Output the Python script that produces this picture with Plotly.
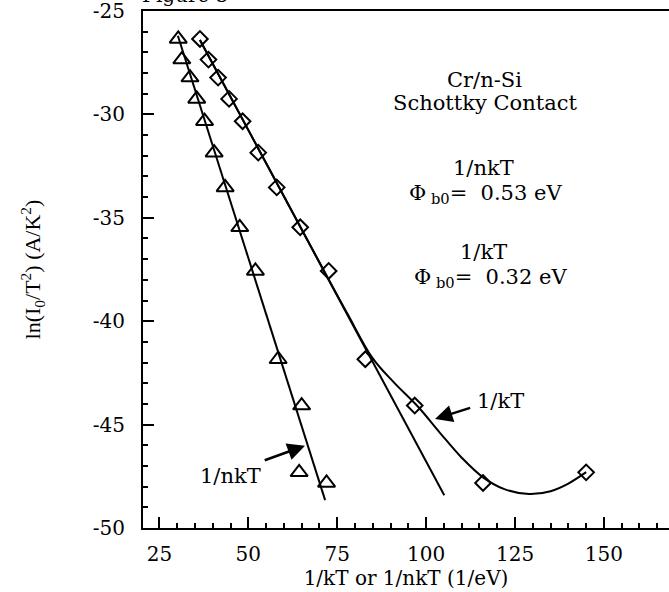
import plotly.graph_objects as go

# ---- data ----
# 1/kT points (diamonds)
x_kT = [36.4, 38.8, 41.5, 44.6, 48.4, 52.8, 58.0, 64.6, 72.6, 82.9, 96.8, 116.0, 145.0]
y_kT = [-26.35, -27.35, -28.22, -29.25, -30.33, -31.85, -33.53, -35.46, -37.57, -41.84, -44.08, -47.82, -47.31]
# 1/nkT points (triangles)
x_nkT = [30.3, 31.3, 33.6, 35.5, 37.7, 40.4, 43.5, 47.6, 52.0, 58.4, 65.0, 72.0, 64.3]
y_nkT = [-26.35, -27.35, -28.22, -29.25, -30.33, -31.85, -33.53, -35.46, -37.57, -41.84, -44.08, -47.82, -47.31]
# straight fit lines (end points)
fit_nkT_x = [30.2, 71.6]
fit_nkT_y = [-26.2, -48.65]
fit_kT_x = [36.4, 105.1]
fit_kT_y = [-26.4, -48.42]
# curved 1/kT fit
curve_x = [36.4, 55, 70, 78, 85, 91, 97.8, 104, 110, 116, 122, 129, 135, 140, 145]
curve_y = [-26.4, -32.35, -37.15, -39.68, -41.8, -42.97, -44.15, -45.42, -46.6, -47.55, -48.12, -48.36, -48.22, -47.85, -47.3]

x_ticks = [25, 50, 75, 100, 125, 150]
y_ticks = [-50, -45, -40, -35, -30, -25]

SERIF = "DejaVu Serif"
TIMES = "Liberation Serif"
BLACK = "black"

fig = go.Figure()

fig.add_trace(go.Scatter(x=fit_nkT_x, y=fit_nkT_y, mode="lines",
                         line=dict(color=BLACK, width=2), showlegend=False))
fig.add_trace(go.Scatter(x=fit_kT_x, y=fit_kT_y, mode="lines",
                         line=dict(color=BLACK, width=2), showlegend=False))
fig.add_trace(go.Scatter(x=curve_x, y=curve_y, mode="lines",
                         line=dict(color=BLACK, width=2, shape="spline"), showlegend=False))
fig.add_trace(go.Scatter(x=x_nkT, y=y_nkT, mode="markers",
                         marker=dict(symbol="triangle-up-open", size=15, color=BLACK,
                                     line=dict(color=BLACK, width=2)), showlegend=False))
fig.add_trace(go.Scatter(x=x_kT, y=y_kT, mode="markers",
                         marker=dict(symbol="diamond-open", size=12, color=BLACK,
                                     line=dict(color=BLACK, width=2)), showlegend=False))

def txt(x, y, s, size=21, font=SERIF):
    fig.add_annotation(x=x, y=y, xref="x", yref="y", text=s, showarrow=False,
                       font=dict(family=font, size=size, color=BLACK),
                       xanchor="center", yanchor="middle")

txt(116.3, -28.35, "Cr/n-Si")
txt(116.5, -29.47, "Schottky Contact")
txt(116.2, -32.57, "1/nkT")
txt(116.6, -33.87, "Φ<sub>\u00a0b0</sub>=\u00a0\u00a00.53 eV")
txt(116.0, -36.63, "1/kT")
txt(118.0, -37.89, "Φ<sub>\u00a0b0</sub>=\u00a0\u00a00.32 eV")
txt(120.8, -43.84, "1/kT")
txt(45.1, -47.47, "1/nkT")

# arrows
fig.add_annotation(x=65.95, y=-46.02, ax=54.2, ay=-46.75, xref="x", yref="y",
                   axref="x", ayref="y", text="", showarrow=True, arrowhead=2,
                   arrowsize=1.4, arrowwidth=2.5, arrowcolor=BLACK, standoff=0)
fig.add_annotation(x=102.5, y=-44.73, ax=112.8, ay=-44.17, xref="x", yref="y",
                   axref="x", ayref="y", text="", showarrow=True, arrowhead=2,
                   arrowsize=1.4, arrowwidth=2.5, arrowcolor=BLACK, standoff=0)

# partially visible caption at top (mostly cut off, as in the reference)
fig.add_annotation(x=-0.005, y=1.0304, xref="paper", yref="paper", text="Figure 5",
                   showarrow=False, xanchor="left", yanchor="middle",
                   font=dict(family=SERIF, size=20, color=BLACK))

fig.update_layout(
    width=669, height=592,
    margin=dict(l=143, r=0, t=11, b=64),
    paper_bgcolor="white", plot_bgcolor="white",
    font=dict(family=SERIF, size=20, color=BLACK),
)
fig.update_xaxes(
    range=[20.39, 168.3], tickmode="array", tickvals=x_ticks,
    ticktext=[str(v) for v in x_ticks],
    ticks="inside", ticklen=11, tickwidth=1.8, tickcolor=BLACK,
    minor=dict(dtick=5, tick0=0, ticks="inside", ticklen=5, tickwidth=1.8, tickcolor=BLACK),
    showline=True, linewidth=2, linecolor=BLACK, mirror=True,
    showgrid=False, zeroline=False, ticklabelstandoff=7, ticklabeloverflow="allow",
    tickfont=dict(family=SERIF, size=20, color=BLACK),
    title=dict(text="1/kT or 1/nkT (1/eV)", font=dict(family=SERIF, size=20, color=BLACK), standoff=6),
)
fig.update_yaxes(
    range=[-50, -25], tickmode="array", tickvals=y_ticks,
    ticktext=[str(v) for v in y_ticks],
    ticks="inside", ticklen=11, tickwidth=1.8, tickcolor=BLACK,
    minor=dict(dtick=1, tick0=0, ticks="inside", ticklen=5, tickwidth=1.8, tickcolor=BLACK),
    showline=True, linewidth=2, linecolor=BLACK, mirror=False,
    showgrid=False, zeroline=False, ticklabelstandoff=12, ticklabeloverflow="allow",
    tickfont=dict(family=SERIF, size=20, color=BLACK),
    title=dict(text="ln(I<sub>0</sub>/T<sup>2</sup>) (A/K<sup>2</sup>)",
               font=dict(family=TIMES, size=22, color=BLACK), standoff=46),
)

fig.write_html("out.html")
